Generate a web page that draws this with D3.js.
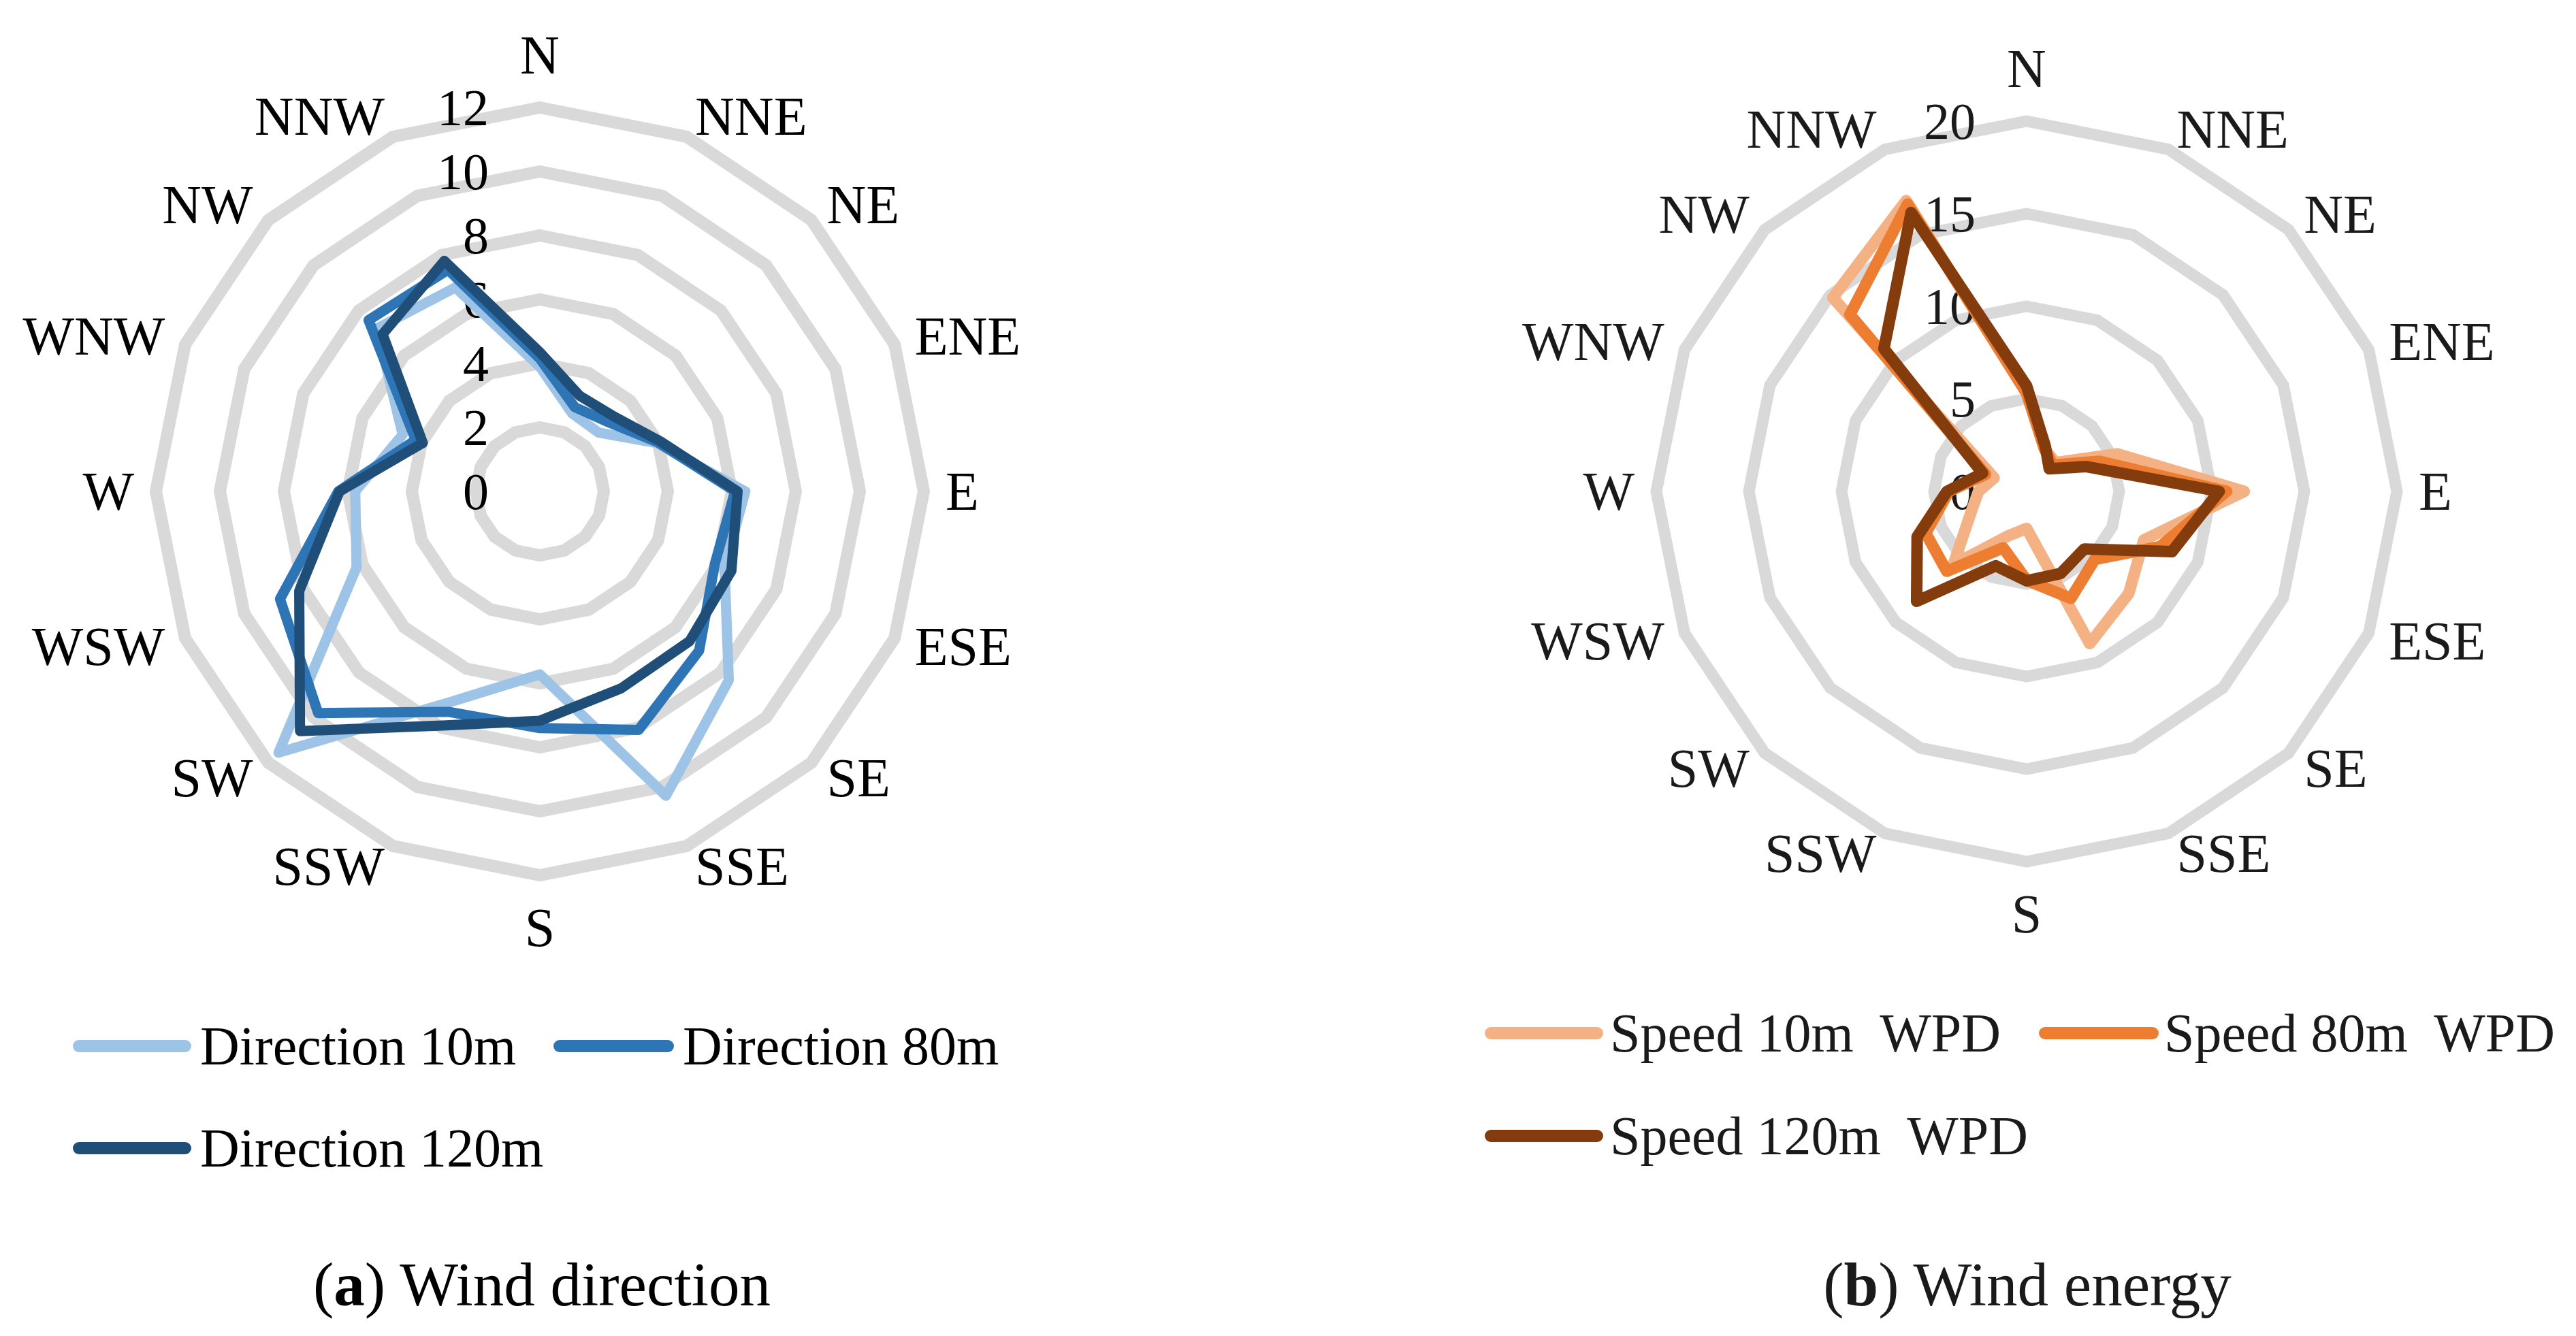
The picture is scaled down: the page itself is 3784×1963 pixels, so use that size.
<!DOCTYPE html>
<html>
<head>
<meta charset="utf-8">
<script src="https://cdn.jsdelivr.net/npm/d3@7/dist/d3.min.js"></script>
<style>
  html, body { margin: 0; padding: 0; background: #ffffff; }
  svg text { font-family: "Liberation Serif", "Times New Roman", serif; white-space: pre; }
</style>
</head>
<body>
<svg id="chart" width="3784" height="1963"></svg>
<script>
// ---------- data ----------
const categories = ["N","NNE","NE","ENE","E","ESE","SE","SSE","S","SSW","SW","WSW","W","WNW","NW","NNW"];

// (a) wind direction (%)
const direction10m  = [3.9, 2.64, 2.6, 3.95, 6.42, 6.25, 8.35, 10.3, 5.72, 7.1, 11.55, 6.2, 5.77, 4.64, 7.2, 6.9];
const direction80m  = [4.15, 2.85, 3.05, 4.0, 6.1, 5.92, 7.04, 8.07, 7.4, 7.46, 9.8, 8.79, 6.3, 4.2, 7.57, 7.5];
const direction120m = [4.35, 3.24, 3.3, 4.08, 6.18, 6.48, 6.62, 6.66, 7.17, 7.92, 10.6, 8.14, 6.26, 3.96, 6.95, 7.8];
const directionTicks = [0, 2, 4, 6, 8, 10, 12];
const directionNames = ["Direction 10m", "Direction 80m", "Direction 120m"];

// (b) wind energy (WPD)
const speed10m  = [5.3, 2.5, 2.2, 5.3, 11.75, 6.85, 7.8, 8.9, 2.0, 2.6, 5.6, 3.3, 2.6, 1.9, 14.8, 17.0];
const speed80m  = [5.3, 2.5, 2.0, 4.25, 10.8, 7.8, 5.2, 6.25, 4.8, 3.3, 6.1, 5.9, 4.2, 2.4, 13.5, 16.8];
const speed120m = [5.7, 2.64, 1.73, 3.5, 10.4, 8.5, 4.4, 4.8, 4.83, 4.35, 8.4, 6.4, 4.3, 2.57, 10.9, 16.3];
const speedTicks = [0, 5, 10, 15, 20];
const speedNames = ["Speed 10m  WPD", "Speed 80m  WPD", "Speed 120m  WPD"];

const blues   = ["#9DC3E6", "#2E75B6", "#1F4E79"];
const oranges = ["#F4B183", "#ED7D31", "#843C0C"];

// ---------- drawing ----------
const svg = d3.select("#chart");
svg.append("rect").attr("width", 3784).attr("height", 1963).attr("fill", "#ffffff");

function radar(opts) {
  const g = svg.append("g").attr("transform", `translate(${opts.cx},${opts.cy})`);
  const r = d3.scaleLinear().domain([0, opts.max]).range([0, opts.R]);
  const ang = d3.scalePoint().domain(categories).range([0, 2 * Math.PI * (categories.length - 1) / categories.length]);

  const ringLine = d3.lineRadial().angle(c => ang(c)).curve(d3.curveLinearClosed);
  // grid rings
  opts.ticks.filter(t => t > 0).forEach(t => {
    g.append("path")
      .attr("d", ringLine.radius(() => r(t))(categories))
      .attr("fill", "none")
      .attr("stroke", "#D9D9D9")
      .attr("stroke-width", opts.gridWidth)
      .attr("stroke-linejoin", "miter");
  });

  // tick labels
  g.selectAll("text.tick").data(opts.ticks).enter().append("text")
    .attr("class", "tick")
    .attr("x", -75)
    .attr("y", d => -r(d))
    .attr("text-anchor", "end")
    .attr("dominant-baseline", "central")
    .attr("font-size", opts.tickSize)
    .attr("fill", opts.textColor)
    .text(d => d);

  // series
  const seriesLine = d3.lineRadial()
    .angle((d, i) => ang(categories[i]))
    .radius(d => r(d))
    .curve(d3.curveLinearClosed);
  opts.series.forEach((s, k) => {
    g.append("path")
      .attr("d", seriesLine(s))
      .attr("fill", "none")
      .attr("stroke", opts.colors[k])
      .attr("stroke-width", opts.lineWidth)
      .attr("stroke-linejoin", "round");
  });

  // category labels
  const rl = opts.R + opts.labelGap;
  categories.forEach(c => {
    const a = ang(c);
    const sx = Math.sin(a), sy = -Math.cos(a);
    let x = sx * rl, y = sy * rl;
    let anchor = "middle";
    if (sx > 0.1) anchor = "start";
    else if (sx < -0.1) anchor = "end";
    if (Math.abs(sx) < 0.1) y += sy * 45;
    g.append("text")
      .attr("x", x).attr("y", y)
      .attr("text-anchor", anchor)
      .attr("dominant-baseline", "central")
      .attr("font-size", 80)
      .attr("fill", opts.textColor)
      .text(c);
  });
}

radar({
  cx: 793, cy: 722, R: 564, max: 12, ticks: directionTicks,
  series: [direction10m, direction80m, direction120m], colors: blues,
  lineWidth: 15, gridWidth: 18, tickSize: 76, labelGap: 32, textColor: "#000000"
});
radar({
  cx: 2977, cy: 722, R: 544, max: 20, ticks: speedTicks,
  series: [speed10m, speed80m, speed120m], colors: oranges,
  lineWidth: 17, gridWidth: 17, tickSize: 76, labelGap: 32, textColor: "#1a1a1a"
});

// ---------- legends ----------
function legend(items, colors, rows, textColor) {
  items.forEach((name, i) => {
    const p = rows[i];
    svg.append("line")
      .attr("x1", p.x1 + 9).attr("x2", p.x2 - 9)
      .attr("y1", p.y).attr("y2", p.y)
      .attr("stroke", colors[i]).attr("stroke-width", 18)
      .attr("stroke-linecap", "round");
    svg.append("text")
      .attr("x", p.tx).attr("y", p.y)
      .attr("dominant-baseline", "central")
      .attr("font-size", 80)
      .attr("fill", textColor)
      .text(name);
  });
}
legend(directionNames, blues, [
  { x1: 107, x2: 281, y: 1537, tx: 294 },
  { x1: 813, x2: 990, y: 1537, tx: 1003 },
  { x1: 107, x2: 281, y: 1687, tx: 294 }
], "#000000");
legend(speedNames, oranges, [
  { x1: 2181, x2: 2355, y: 1518, tx: 2365 },
  { x1: 2995, x2: 3171, y: 1518, tx: 3179 },
  { x1: 2181, x2: 2355, y: 1669, tx: 2365 }
], "#1a1a1a");

// ---------- captions ----------
function caption(x, letter, rest, color) {
  const t = svg.append("text")
    .attr("x", x).attr("y", 1887)
    .attr("text-anchor", "middle")
    .attr("dominant-baseline", "central")
    .attr("font-size", 91)
    .attr("fill", color);
  t.append("tspan").text("(");
  t.append("tspan").attr("font-weight", "bold").text(letter);
  t.append("tspan").text(") " + rest);
}
caption(796, "a", "Wind direction", "#000000");
caption(2978, "b", "Wind energy", "#1a1a1a");
</script>
</body>
</html>
